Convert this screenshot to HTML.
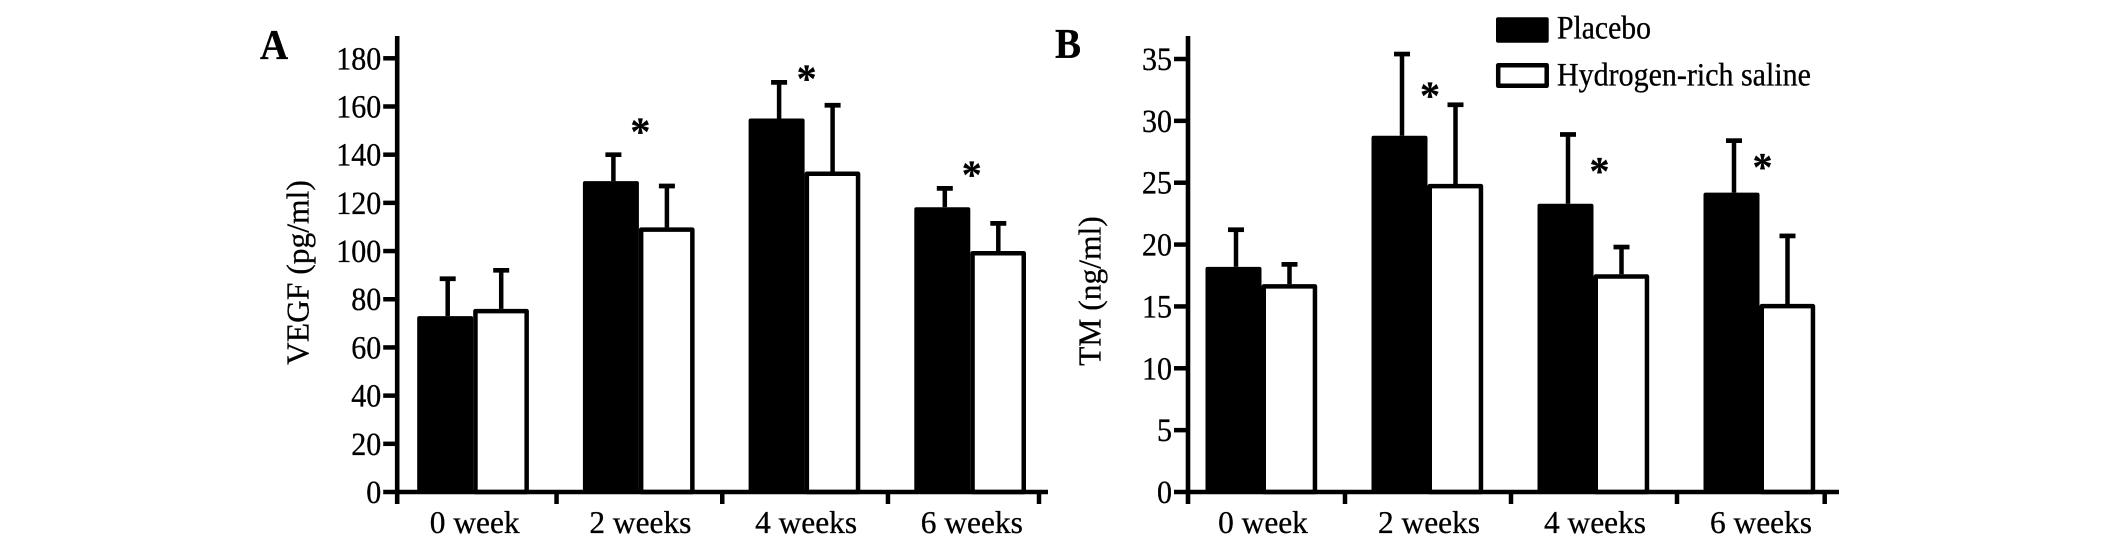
<!DOCTYPE html>
<html lang="en">
<head>
<meta charset="utf-8">
<title>VEGF and TM bar charts</title>
<style>
  html, body { margin: 0; padding: 0; background: #fff; }
  #figure { display: block; width: 2126px; height: 542px; background: #fff; }
  text { font-family: "Liberation Serif", "Times New Roman", serif; fill: #000; stroke: #000; stroke-width: 0.3; }
</style>
</head>
<body>
<svg id="figure" xmlns="http://www.w3.org/2000/svg" width="2126" height="542" viewBox="0 0 2126 542">
  <text transform="translate(260,59) scale(1,1.09)" font-size="39" font-weight="bold">A</text>
  <text transform="translate(1055,58) scale(1,1.09)" font-size="39" font-weight="bold">B</text>
  <g id="chart-a"></g>
  <g id="chart-b"></g>
  <g>
    <g>
      <rect x="1498" y="19.3" width="48.7" height="21.4" fill="#000" stroke="#000" stroke-width="4" stroke-linejoin="round"/>
      <text transform="translate(1557,38.3) scale(1,1.09)" font-size="29.7">Placebo</text>
    </g>
    <g>
      <rect x="1498.2" y="65.2" width="48.5" height="20.6" fill="#fff" stroke="#000" stroke-width="4.5" stroke-linejoin="round"/>
      <text transform="translate(1557,85.3) scale(1,1.09)" font-size="30">Hydrogen-rich saline</text>
    </g>
  </g>
</svg>
<script>
const categories = ['0 week', '2 weeks', '4 weeks', '6 weeks'];

const vegfPlacebo = [73, 129, 155, 118.2];
const vegfSaline = [76, 109.8, 133, 100];
const vegfPlaceboErrorTop = [88.5, 140, 170, 126];
const vegfSalineErrorTop = [92, 127, 160.5, 111.5];
const vegfStars = [null, 152, 174, 134];
const vegfTicks = [0, 20, 40, 60, 80, 100, 120, 140, 160, 180];

const tmPlacebo = [18.2, 28.8, 23.3, 24.2];
const tmSaline = [16.8, 24.9, 17.6, 15.2];
const tmPlaceboErrorTop = [21.2, 35.4, 28.9, 28.4];
const tmSalineErrorTop = [18.4, 31.3, 19.8, 20.7];
const tmStars = [null, 32.5, 26.4, 26.7];
const tmTicks = [0, 5, 10, 15, 20, 25, 30, 35];

const SVG_NS = 'http://www.w3.org/2000/svg';

function makeEl(parent, tag, attrs) {
  const el = document.createElementNS(SVG_NS, tag);
  for (const key in attrs) el.setAttribute(key, attrs[key]);
  parent.appendChild(el);
  return el;
}

function slug(s) {
  return s.replace(/\s+/g, '-');
}

function drawChart(root, cfg) {
  const yScale = v => cfg.baseY + (cfg.topTickY - cfg.baseY) * (v / cfg.ticks[cfg.ticks.length - 1]);
  const groupX = i => cfg.groupStart + i * cfg.groupStep;

  categories.forEach((cat, i) => {
    const c = groupX(i);
    const top = yScale(cfg.saline[i]);
    const wx = c + 27.5;
    const errY = yScale(cfg.salineErr[i]);

    const stem = makeEl(root, 'line', { x1: wx, x2: wx, y1: top, y2: errY, stroke: '#000', 'stroke-width': 4.5 });
    
    

    const cap = makeEl(root, 'line', { x1: wx - 8, x2: wx + 8, y1: errY, y2: errY, stroke: '#000', 'stroke-width': 4.7 });
    
    
  });

  categories.forEach((cat, i) => {
    const c = groupX(i);
    const top = yScale(cfg.placebo[i]);
    const wx = c - 26;
    const errY = yScale(cfg.placeboErr[i]);

    const stem = makeEl(root, 'line', { x1: wx, x2: wx, y1: top, y2: errY, stroke: '#000', 'stroke-width': 4.5 });
    
    

    const cap = makeEl(root, 'line', { x1: wx - 8, x2: wx + 8, y1: errY, y2: errY, stroke: '#000', 'stroke-width': 4.7 });
    
    

    const bar = makeEl(root, 'rect', {
      x: c - 54.5, y: top + 2, width: 52, height: cfg.baseY - top - 2,
      fill: '#000', stroke: '#000', 'stroke-width': 4, 'stroke-linejoin': 'round'
    });
    
    
  });

  categories.forEach((cat, i) => {
    const c = groupX(i);
    const top = yScale(cfg.saline[i]);
    const bar = makeEl(root, 'rect', {
      x: c + 1.75, y: top + 2.2, width: 51.2, height: cfg.baseY - top - 2.2,
      fill: '#fff', stroke: '#000', 'stroke-width': 4.5, 'stroke-linejoin': 'round'
    });
    
    
  });

  // significance stars
  cfg.stars.forEach((level, i) => {
    if (level === null) return;
    const star = makeEl(root, 'text', {
      x: groupX(i) + cfg.starDx[i], y: yScale(level) + 19, 'font-size': 40, 'font-weight': 'bold', 'text-anchor': 'middle'
    });
    star.textContent = '*';
    
    
  });

  // y axis
  const yAxis = makeEl(root, 'line', { x1: cfg.axisX, x2: cfg.axisX, y1: cfg.axisTop, y2: cfg.baseY + 12, stroke: '#000', 'stroke-width': 4.6 });
  
  

  cfg.ticks.forEach(t => {
    const y = yScale(t);
    const tick = makeEl(root, 'line', { x1: cfg.axisX - 14, x2: cfg.axisX, y1: y, y2: y, stroke: '#000', 'stroke-width': 4.5 });
    
    

    const label = makeEl(root, 'text', {
      transform: 'translate(' + (cfg.axisX - 16) + ',' + (y + 11) + ') scale(1,1.09)',
      'font-size': 30, 'text-anchor': 'end'
    });
    label.textContent = String(t);
    
    
  });

  // x axis
  const xAxis = makeEl(root, 'line', { x1: cfg.axisX, x2: cfg.axisEnd, y1: cfg.baseY, y2: cfg.baseY, stroke: '#000', 'stroke-width': 4.5 });
  
  

  categories.forEach((cat, i) => {
    if (i > 0) {
      const tx = groupX(i) - cfg.groupStep / 2;
      const tick = makeEl(root, 'line', { x1: tx, x2: tx, y1: cfg.baseY, y2: cfg.baseY + 12, stroke: '#000', 'stroke-width': 4.5 });
      
      
    }
    const label = makeEl(root, 'text', { x: groupX(i) + 1, y: 533, 'font-size': 31.4, 'text-anchor': 'middle' });
    label.textContent = cat;
    
    
  });

  const endTick = makeEl(root, 'line', { x1: cfg.lastTickX, x2: cfg.lastTickX, y1: cfg.baseY, y2: cfg.baseY + 12, stroke: '#000', 'stroke-width': 4.5 });
  
  

  // y axis title
  const title = makeEl(root, 'text', {
    x: 0, y: 0, 'font-size': 31.5, 'text-anchor': 'middle', 'stroke-width': 0.7,
    transform: 'translate(' + cfg.titleX + ',' + cfg.titleY + ') rotate(-90)'
  });
  title.textContent = cfg.title;
  
  
}

drawChart(document.getElementById('chart-a'), {
  placebo: vegfPlacebo, saline: vegfSaline,
  placeboErr: vegfPlaceboErrorTop, salineErr: vegfSalineErrorTop,
  stars: vegfStars, ticks: vegfTicks, title: 'VEGF (pg/ml)', starDx: [0, 1, 1.5, 1],
  axisX: 397.2, axisEnd: 1048, axisTop: 36, baseY: 492, topTickY: 58.3,
  groupStart: 473.7, groupStep: 165.7, lastTickX: 1039, titleX: 308.5, titleY: 272.5
});

drawChart(document.getElementById('chart-b'), {
  placebo: tmPlacebo, saline: tmSaline,
  placeboErr: tmPlaceboErrorTop, salineErr: tmSalineErrorTop,
  stars: tmStars, ticks: tmTicks, title: 'TM (ng/ml)', starDx: [0, 2, 5.5, 2.5],
  axisX: 1188, axisEnd: 1839, axisTop: 36, baseY: 492, topTickY: 59,
  groupStart: 1262, groupStep: 166, lastTickX: 1824.7, titleX: 1100.5, titleY: 291
});
</script>
</body>
</html>
